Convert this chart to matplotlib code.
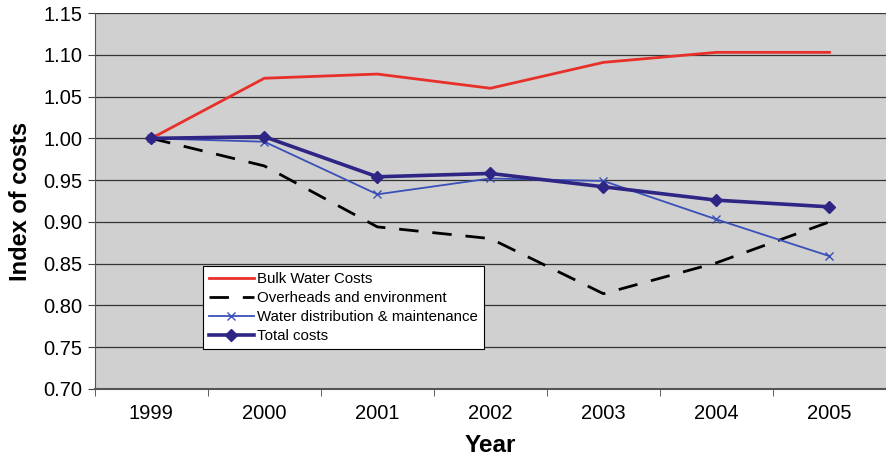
import matplotlib
matplotlib.use("Agg")
import matplotlib.pyplot as plt

plt.rcParams["font.family"] = ["Liberation Sans", "DejaVu Sans"]

# Values
YEARS = ["1999", "2000", "2001", "2002", "2003", "2004", "2005"]
BULK_WATER = [1.000, 1.072, 1.077, 1.060, 1.091, 1.103, 1.103]
OVERHEADS = [1.000, 0.967, 0.894, 0.880, 0.814, 0.851, 0.900]
DISTRIBUTION = [1.000, 0.996, 0.933, 0.952, 0.949, 0.903, 0.859]
TOTAL = [1.000, 1.002, 0.954, 0.958, 0.942, 0.926, 0.918]

Y_TICKS = [0.70, 0.75, 0.80, 0.85, 0.90, 0.95, 1.00, 1.05, 1.10, 1.15]

fig = plt.figure(figsize=(8.86, 4.68), dpi=100)
ax = fig.add_axes([0.107, 0.169, 0.893, 0.803])
ax.set_facecolor("#d0d0d0")

x = list(range(len(YEARS)))

ax.plot(x, BULK_WATER, color="#e8302a", lw=2.0, label="Bulk Water Costs", zorder=3)
ax.plot(x, OVERHEADS, color="black", lw=2.0, dashes=(7, 5),
        label="Overheads and environment", zorder=3)
ax.plot(x, DISTRIBUTION, color="#3a50b8", lw=1.3, marker="x", ms=6, mew=1.0,
        label="Water distribution & maintenance", zorder=4)
ax.plot(x, TOTAL, color="#2f2585", lw=2.6, marker="D", ms=6,
        label="Total costs", zorder=5)

ax.set_xlim(-0.5, len(YEARS) - 0.5)
ax.set_ylim(0.70, 1.15)
ax.set_yticks(Y_TICKS)
ax.set_yticklabels([f"{v:.2f}" for v in Y_TICKS], fontsize=14.5)
ax.set_xticks(x)
ax.set_xticklabels(YEARS, fontsize=14.5)
ax.set_xticks([i - 0.5 for i in range(len(YEARS) + 1)], minor=True)
ax.tick_params(axis="x", which="major", length=0, pad=11)
ax.tick_params(axis="x", which="minor", length=5, color="#444444")
ax.tick_params(axis="y", length=5, color="#444444", pad=4)

ax.grid(axis="y", color="#333333", lw=0.9)
ax.set_axisbelow(True)
for side in ["top", "right"]:
    ax.spines[side].set_visible(False)
ax.spines["left"].set_color("#555555")
ax.spines["bottom"].set_color("#555555")
ax.spines["bottom"].set_linewidth(1.5)

ax.set_xlabel("Year", fontsize=17.5, fontweight="bold", labelpad=8)
ax.set_ylabel("Index of costs", fontsize=17, fontweight="bold", labelpad=8)

leg = ax.legend(loc="lower left", bbox_to_anchor=(0.1365, 0.106), fontsize=10.8,
                frameon=True, fancybox=False, framealpha=1, edgecolor="black",
                handlelength=3.0, borderpad=0.4, labelspacing=0.33,
                handletextpad=0.2, borderaxespad=0)
leg.get_frame().set_linewidth(0.8)

fig.savefig("out.png", dpi=100)
